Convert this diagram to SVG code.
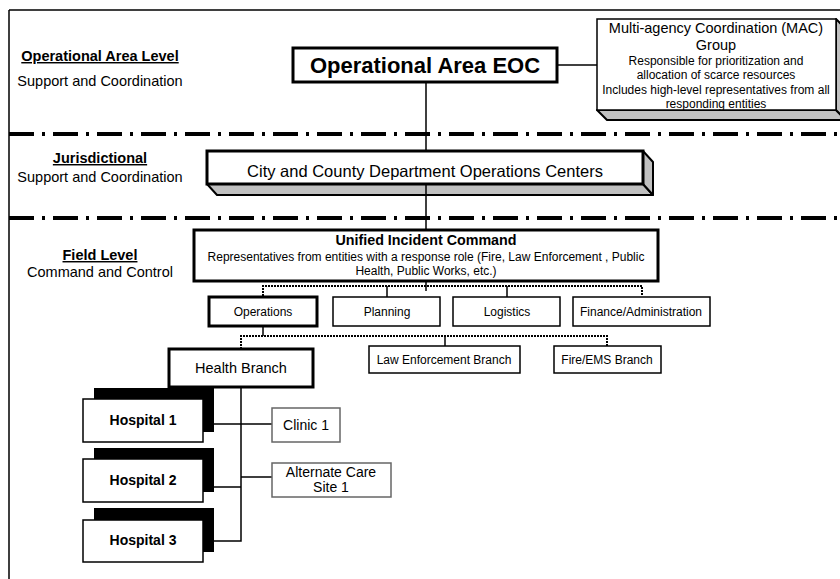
<svg xmlns="http://www.w3.org/2000/svg" width="840" height="579" viewBox="0 0 840 579">
<style>
text{font-family:"Liberation Sans",Arial,sans-serif;fill:#000}
.lbl{font-size:14.5px;text-anchor:middle}
.lblb{font-size:14.5px;font-weight:bold;text-anchor:middle;text-decoration:underline}
.c{text-anchor:middle}
.thick{fill:#fff;stroke:#000;stroke-width:3}
.thin{fill:#fff;stroke:#000;stroke-width:1.5}
.gray{fill:#fff;stroke:#666;stroke-width:1.5}
.shade{fill:#c0c0c0;stroke:#000;stroke-width:2;stroke-linejoin:round}
.dd{stroke:#000;stroke-width:4;stroke-dasharray:25 8 3 8;fill:none}
.conn{stroke:#000;stroke-width:1.5;fill:none}
.dot{stroke:#000;stroke-width:2;stroke-dasharray:2 1;fill:none}
</style>
<rect width="840" height="579" fill="#fff"/>
<g id="frame">
<path d="M9 10 H840 M9 10 V579" stroke="#000" stroke-width="1.5" fill="none"/>
</g>
<g id="dividers">
<line class="dd" x1="9" y1="134" x2="840" y2="134"/>
<line class="dd" x1="9" y1="218" x2="840" y2="218"/>
</g>
<g id="level-labels">
<text class="lblb" x="100" y="61">Operational Area Level</text>
<text class="lbl" x="100" y="86">Support and Coordination</text>
<text class="lblb" x="100" y="163">Jurisdictional</text>
<text class="lbl" x="100" y="182">Support and Coordination</text>
<text class="lblb" x="100" y="260">Field Level</text>
<text class="lbl" x="100" y="277">Command and Control</text>
</g>
<g id="connectors">
<path class="conn" d="M557 65 H597"/>
<path class="conn" d="M426 82 V151 M426 184 V230"/>
<path class="dot" d="M263 296 V286 H642 V296"/>
<path class="conn" d="M387 286 V297 M507 286 V297 M426 281 V291"/>
<path class="conn" d="M263 326 V336"/>
<path class="dot" d="M241 349 V336 H607 V346"/>
<path class="conn" d="M445 336 V346"/>
<path class="conn" d="M241 387 V541 H214 M214 487 H241 M214 424 H272 M241 477 H272"/>
</g>
<g id="eoc">
<rect class="thick" x="293" y="48" width="264" height="34"/>
<text class="c" x="425" y="73" font-size="22" font-weight="bold">Operational Area EOC</text>
</g>
<g id="mac">
<polygon class="shade" points="597,110 836,110 846,120 607,120"/>
<polygon class="shade" points="836,19 846,29 846,120 836,110"/>
<rect x="597" y="19" width="239" height="91" fill="#fff" stroke="#000" stroke-width="1.5"/>
<text class="c" x="716" y="33" font-size="14.5">Multi-agency Coordination (MAC)</text>
<text class="c" x="716" y="50" font-size="14.5">Group</text>
<text class="c" x="716" y="65" font-size="12">Responsible for prioritization and</text>
<text class="c" x="716" y="79" font-size="12">allocation of scarce resources</text>
<text class="c" x="716" y="94" font-size="12">Includes high-level representatives from all</text>
<text class="c" x="716" y="108" font-size="12">responding  entities</text>
</g>
<g id="doc">
<polygon class="shade" points="207,184 643,184 653,195 217,195"/>
<polygon class="shade" points="643,151 653,162 653,195 643,184"/>
<rect class="thick" x="207" y="151" width="436" height="33"/>
<path class="conn" d="M426 184 V195"/>
<text class="c" x="425" y="177" font-size="16.5">City and County Department Operations Centers</text>
</g>
<g id="uic">
<rect class="thick" x="194" y="230" width="464" height="51"/>
<text class="c" x="426" y="245" font-size="14.3" font-weight="bold">Unified Incident Command</text>
<text class="c" x="426" y="261" font-size="12">Representatives from entities with a response role (Fire, Law Enforcement , Public</text>
<text class="c" x="426" y="275" font-size="12">Health, Public Works, etc.)</text>
</g>
<g id="operations">
<rect class="thick" x="209" y="297" width="108" height="29"/>
<text class="c" x="263" y="316" font-size="12">Operations</text>
</g>
<g id="planning">
<rect class="thin" x="333" y="297" width="107" height="29"/>
<text class="c" x="387" y="316" font-size="12">Planning</text>
</g>
<g id="logistics">
<rect class="thin" x="453" y="297" width="107" height="29"/>
<text class="c" x="507" y="316" font-size="12">Logistics</text>
</g>
<g id="finance">
<rect class="thin" x="573" y="297" width="137" height="29"/>
<text class="c" x="641" y="316" font-size="12">Finance/Administration</text>
</g>
<g id="health-branch">
<rect class="thick" x="169" y="349" width="144" height="38"/>
<text class="c" x="241" y="373" font-size="14.5">Health Branch</text>
</g>
<g id="law-branch">
<rect class="thin" x="369" y="346" width="151" height="27"/>
<text class="c" x="444" y="364" font-size="12">Law Enforcement Branch</text>
</g>
<g id="fire-branch">
<rect class="thin" x="554" y="346" width="107" height="27"/>
<text class="c" x="607" y="364" font-size="12">Fire/EMS Branch</text>
</g>
<g id="hospital1">
<rect x="94" y="388" width="120" height="44" fill="#000"/>
<rect class="thin" x="83" y="399" width="120" height="43"/>
<text class="c" x="143" y="425" font-size="14" font-weight="bold">Hospital 1</text>
</g>
<g id="hospital2">
<rect x="94" y="448" width="120" height="44" fill="#000"/>
<rect class="thin" x="83" y="459" width="120" height="43"/>
<text class="c" x="143" y="485" font-size="14" font-weight="bold">Hospital 2</text>
</g>
<g id="hospital3">
<rect x="94" y="508" width="120" height="44" fill="#000"/>
<rect class="thin" x="83" y="520" width="120" height="42"/>
<text class="c" x="143" y="545" font-size="14" font-weight="bold">Hospital 3</text>
</g>
<g id="clinic1">
<rect class="gray" x="272" y="408" width="68" height="34"/>
<text class="c" x="306" y="430" font-size="14">Clinic 1</text>
</g>
<g id="alt-care">
<rect class="gray" x="272" y="463" width="119" height="34"/>
<text class="c" x="331" y="477" font-size="14">Alternate Care</text>
<text class="c" x="331" y="492" font-size="14">Site 1</text>
</g>
</svg>
